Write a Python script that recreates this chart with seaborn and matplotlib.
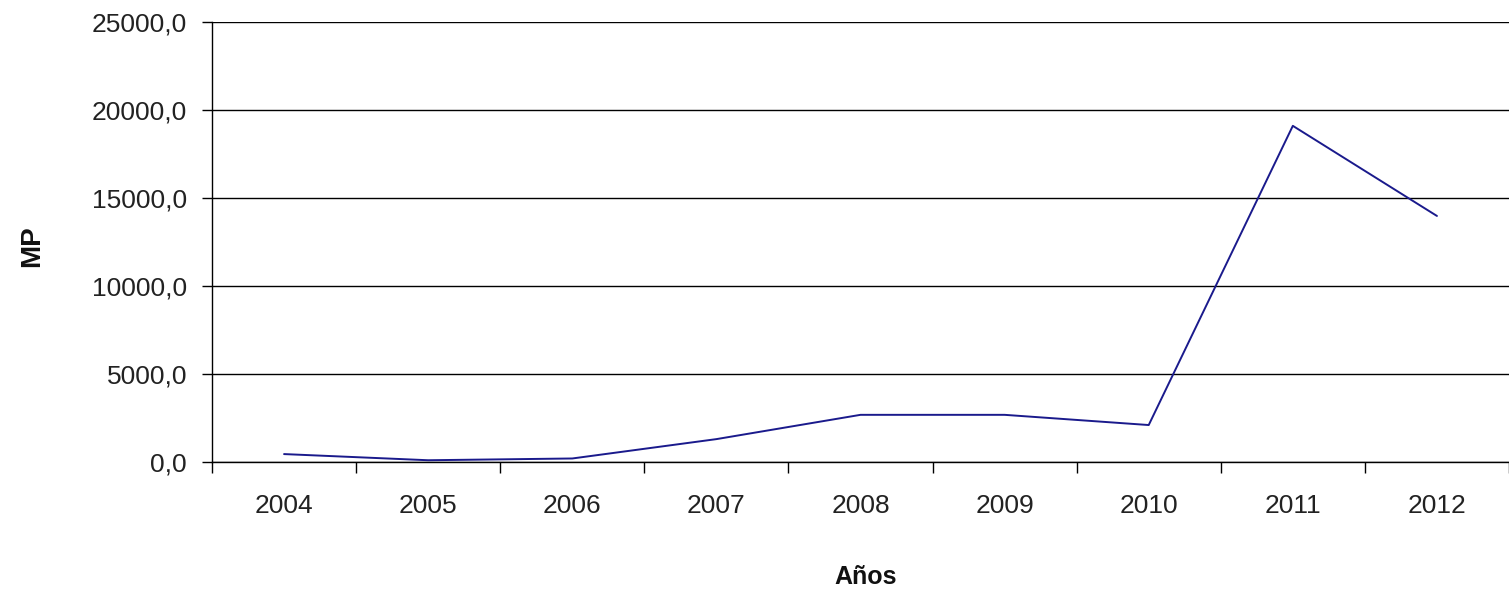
import matplotlib
matplotlib.use("Agg")
import matplotlib.pyplot as plt
import seaborn as sns
import pandas as pd
import numpy as np
from matplotlib.ticker import FixedLocator, FuncFormatter

years = ["2004", "2005", "2006", "2007", "2008", "2009", "2010", "2011", "2012"]
mp_values = [450, 100, 200, 1300, 2680, 2680, 2100, 19100, 13980]
y_ticks = [0, 5000, 10000, 15000, 20000, 25000]

sns.set_theme(style="white")
plt.rcParams['font.family'] = ['Liberation Sans', 'DejaVu Sans']

df = pd.DataFrame({"Años": years, "MP": mp_values})

W, H = 1509, 595
fig = plt.figure(figsize=(W / 100, H / 100), dpi=100)
ax = fig.add_axes([212 / W, 1 - 462 / H, (1509 - 212) / W, (462 - 22) / H])

sns.lineplot(data=df, x="Años", y="MP", ax=ax, color="#1a1a8c", linewidth=1.4, sort=False)

ax.set_xlim(-0.5, len(years) - 0.5)
ax.set_ylim(0, 25000)
ax.yaxis.set_major_locator(FixedLocator(y_ticks))
ax.yaxis.set_major_formatter(FuncFormatter(lambda v, p: f"{v:.1f}".replace(".", ",")))
ax.grid(axis="y", color="black", linewidth=1.0)
ax.set_axisbelow(True)

ax.set_xticks(range(len(years)))
ax.set_xticklabels(years)
ax.set_xticks(np.arange(-0.5, len(years), 1.0), minor=True)
ax.tick_params(axis="x", which="major", length=0, pad=23, labelsize=19, colors="#222222")
ax.tick_params(axis="x", which="minor", length=8, width=1.0, color="black", direction="out", bottom=True)
ax.tick_params(axis="y", which="major", length=7, width=1.0, color="black", direction="out", left=True, pad=11, labelsize=19, colors="#222222")

for s in ["top", "right"]:
    ax.spines[s].set_visible(False)
for s in ["left", "bottom"]:
    ax.spines[s].set_color("black")
    ax.spines[s].set_linewidth(1.0)

ax.set_xlabel("")
ax.set_ylabel("")
fig.text(866 / W, 1 - 577 / H, "Años", ha="center", va="center", fontsize=18, fontweight="bold", color="#111111")
fig.text(32 / W, 1 - 246 / H, "MP", ha="center", va="center", rotation=90, fontsize=20, fontweight="bold", color="#111111")

fig.savefig("out.png", dpi=100)
